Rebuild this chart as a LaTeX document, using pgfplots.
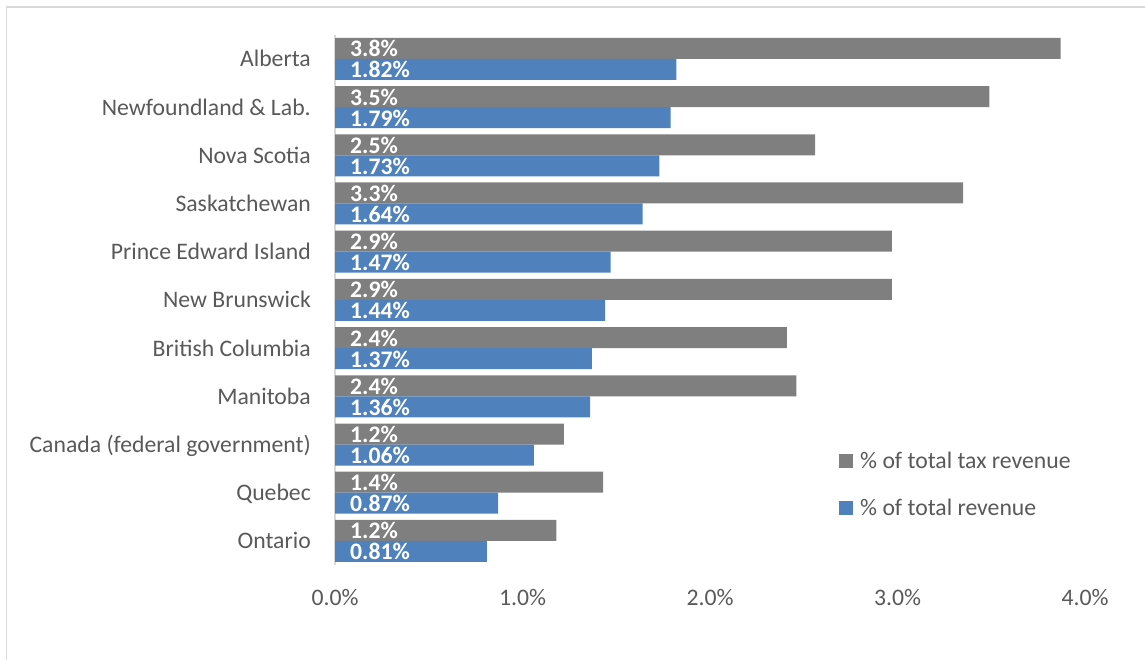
\documentclass[border=0pt]{standalone}
\usepackage{fontspec}
\setmainfont{Carlito}
\usepackage{pgfplots}
\pgfplotsset{compat=1.18}
\definecolor{bargray}{HTML}{7F7F7F}
\definecolor{barblue}{HTML}{4F81BD}
\definecolor{txtgray}{HTML}{595959}
\definecolor{linegray}{HTML}{D9D9D9}
\newcommand{\bigfont}{\fontsize{23.7pt}{28pt}\selectfont}
\begin{document}
\begin{tikzpicture}
\useasboundingbox (0,0) rectangle (1145pt,-660pt);
\draw[linegray, line width=1.5pt] (6.5pt,-662pt) -- (6.5pt,-7pt) -- (1147pt,-7pt);
\begin{axis}[
  at={(335pt,-565pt)}, anchor=south west,
  x=187.5pt, y=48.2pt,
  xmin=0, xmax=4, ymin=-0.5, ymax=10.5,
  axis lines*=left,
  x axis line style={draw=none},
  y axis line style={draw=linegray, line width=1.5pt},
  xtick={0,1,2,3,4},
  xticklabels={0.0\%,1.0\%,2.0\%,3.0\%,4.0\%},
  ytick={0,1,2,3,4,5,6,7,8,9,10},
  yticklabels={Ontario,Quebec,Canada (federal government),Manitoba,British Columbia,New Brunswick,Prince Edward Island,Saskatchewan,Nova Scotia,Newfoundland \& Lab.,Alberta},
  tick style={draw=none},
  tick label style={font=\bigfont, text=txtgray, inner sep=0pt},
  xticklabel style={anchor=base, yshift=-40pt},
  yticklabel style={anchor=base east, xshift=-24pt, yshift=-8pt},
  bar width=21pt,
  legend style={at={(0.672,0.213)}, anchor=north west, draw=none, fill=none,
    font=\bigfont, text=txtgray, row sep=29pt, inner sep=0pt,
    nodes={inner sep=0pt}},
  legend cell align=left,
  legend image code/.code={\fill[#1] (0pt,-7pt) rectangle (14pt,7pt); \path (21pt,0pt);},
]
\addplot[xbar, bar shift=10.5pt, fill=bargray, draw=none] coordinates {
 (1.18,0) (1.43,1) (1.22,2) (2.46,3) (2.41,4) (2.97,5) (2.97,6) (3.35,7) (2.56,8) (3.49,9) (3.87,10)};
\addlegendentry{\% of total tax revenue}
\addplot[xbar, bar shift=-10.5pt, fill=barblue, draw=none] coordinates {
 (0.81,0) (0.87,1) (1.06,2) (1.36,3) (1.37,4) (1.44,5) (1.47,6) (1.64,7) (1.73,8) (1.79,9) (1.82,10)};
\addlegendentry{\% of total revenue}
% data labels at the base of each bar
\addplot[draw=none, mark=none, forget plot, point meta=explicit symbolic,
  nodes near coords,
  every node near coord/.append style={anchor=base west, inner sep=0pt, xshift=15pt, yshift=2pt, text=white, font=\bigfont\bfseries}]
  coordinates {(0,0)[1.2\%] (0,1)[1.4\%] (0,2)[1.2\%] (0,3)[2.4\%] (0,4)[2.4\%] (0,5)[2.9\%] (0,6)[2.9\%] (0,7)[3.3\%] (0,8)[2.5\%] (0,9)[3.5\%] (0,10)[3.8\%]};
\addplot[draw=none, mark=none, forget plot, point meta=explicit symbolic,
  nodes near coords,
  every node near coord/.append style={anchor=base west, inner sep=0pt, xshift=15pt, yshift=-19pt, text=white, font=\bigfont\bfseries}]
  coordinates {(0,0)[0.81\%] (0,1)[0.87\%] (0,2)[1.06\%] (0,3)[1.36\%] (0,4)[1.37\%] (0,5)[1.44\%] (0,6)[1.47\%] (0,7)[1.64\%] (0,8)[1.73\%] (0,9)[1.79\%] (0,10)[1.82\%]};
\end{axis}
\end{tikzpicture}
\end{document}
